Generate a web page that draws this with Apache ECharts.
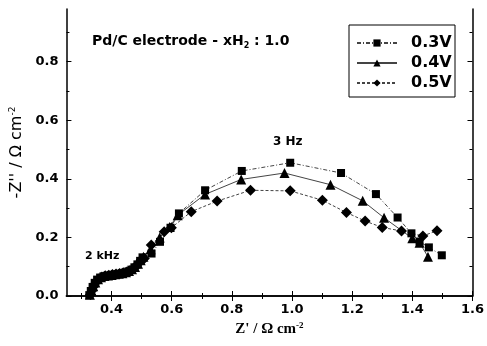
<!DOCTYPE html>
<html>
<head>
<meta charset="utf-8">
<script src="https://cdn.jsdelivr.net/npm/echarts@6/dist/echarts.min.js"></script>
<style>
  html, body { margin: 0; padding: 0; background: #fff; }
  #chart { width: 487px; height: 346px; }
</style>
</head>
<body>
<div id="chart"></div>
<script>
// Z' values (Ohm cm-2) and -Z'' values
const x03 = [0.326, 0.331, 0.337, 0.344, 0.352, 0.362, 0.373, 0.385, 0.397, 0.409, 0.421, 0.433, 0.445, 0.456, 0.466, 0.476, 0.486, 0.495, 0.503, 0.533, 0.561, 0.596, 0.624, 0.711, 0.833, 0.994, 1.163, 1.279, 1.351, 1.397, 1.424, 1.455, 1.498];
const y03 = [0.003, 0.017, 0.031, 0.045, 0.056, 0.063, 0.067, 0.069, 0.071, 0.073, 0.075, 0.077, 0.080, 0.084, 0.090, 0.098, 0.108, 0.120, 0.132, 0.145, 0.185, 0.233, 0.282, 0.361, 0.427, 0.455, 0.420, 0.348, 0.268, 0.214, 0.186, 0.166, 0.139];

const x04 = [0.328, 0.333, 0.339, 0.346, 0.355, 0.365, 0.376, 0.388, 0.400, 0.412, 0.424, 0.436, 0.448, 0.458, 0.468, 0.478, 0.488, 0.497, 0.506, 0.530, 0.560, 0.593, 0.620, 0.711, 0.831, 0.975, 1.128, 1.235, 1.306, 1.400, 1.424, 1.452];
const y04 = [0.004, 0.019, 0.033, 0.046, 0.057, 0.064, 0.068, 0.070, 0.072, 0.074, 0.076, 0.078, 0.081, 0.085, 0.091, 0.099, 0.110, 0.122, 0.134, 0.160, 0.200, 0.236, 0.276, 0.347, 0.398, 0.420, 0.380, 0.325, 0.267, 0.197, 0.182, 0.134];

const x05 = [0.330, 0.336, 0.342, 0.349, 0.358, 0.368, 0.379, 0.391, 0.403, 0.415, 0.427, 0.439, 0.451, 0.461, 0.471, 0.481, 0.490, 0.499, 0.509, 0.532, 0.575, 0.599, 0.665, 0.751, 0.862, 0.994, 1.101, 1.181, 1.243, 1.300, 1.364, 1.435, 1.482];
const y05 = [0.005, 0.020, 0.034, 0.047, 0.058, 0.065, 0.069, 0.071, 0.073, 0.075, 0.077, 0.079, 0.082, 0.086, 0.093, 0.101, 0.112, 0.124, 0.128, 0.174, 0.219, 0.233, 0.288, 0.324, 0.361, 0.359, 0.327, 0.285, 0.256, 0.234, 0.222, 0.205, 0.223];

const seriesNames = ['0.3V', '0.4V', '0.5V'];
const xMajor = [0.4, 0.6, 0.8, 1.0, 1.2, 1.4, 1.6];
const xMinor = [0.3, 0.5, 0.7, 0.9, 1.1, 1.3, 1.5];
const yMajor = [0.0, 0.2, 0.4, 0.6, 0.8];
const yMinor = [0.1, 0.3, 0.5, 0.7, 0.9];

const zip = (xs, ys) => xs.map((v, i) => [v, ys[i]]);

const chart = echarts.init(document.getElementById('chart'));

const axisLine = { show: true, lineStyle: { color: '#000', width: 1.5 } };
const labelFont = { color: '#000', fontFamily: 'DejaVu Sans', fontWeight: 'bold', fontSize: 13 };

function xAx(pos, ticks, len, withLabel, withLine) {
  const ax = {
    type: 'value', position: pos, min: 0.25, max: 1.6,
    axisLine: withLine ? axisLine : { show: false },
    axisTick: { show: true, inside: true, length: len, customValues: ticks, lineStyle: { color: '#000', width: 1 } },
    axisLabel: { show: false },
    splitLine: { show: false }
  };
  if (withLabel) {
    ax.axisLabel = Object.assign({ show: true, margin: 7, customValues: xMajor, formatter: v => v.toFixed(1) }, labelFont);
    ax.name = "{a|Z' / Ω cm}{s|-2}";
    ax.nameLocation = 'middle';
    ax.nameGap = 25;
    ax.nameTextStyle = {
      rich: {
        a: { fontFamily: 'Liberation Serif', fontWeight: 'bold', fontSize: 15, color: '#000' },
        s: { fontFamily: 'Liberation Serif', fontWeight: 'bold', fontSize: 9, color: '#000', verticalAlign: 'top', padding: [0, 0, 8, 0] }
      }
    };
  }
  return ax;
}

function yAx(pos, ticks, len, withLabel, withLine) {
  const ax = {
    type: 'value', position: pos, min: 0, max: 0.98,
    axisLine: withLine ? axisLine : { show: false },
    axisTick: { show: true, inside: true, length: len, customValues: ticks, lineStyle: { color: '#000', width: 1 } },
    axisLabel: { show: false },
    splitLine: { show: false }
  };
  if (withLabel) {
    ax.axisLabel = Object.assign({ show: true, margin: 8, customValues: yMajor, formatter: v => v.toFixed(1) }, labelFont);
    ax.name = "{a|-Z'' / Ω cm}{s|-2}";
    ax.nameLocation = 'middle';
    ax.nameRotate = 90;
    ax.nameGap = 31;
    ax.nameTextStyle = {
      rich: {
        a: { fontFamily: 'DejaVu Sans', fontSize: 16, color: '#000' },
        s: { fontFamily: 'DejaVu Sans', fontSize: 9, color: '#000', verticalAlign: 'top', padding: [0, 0, 8, 0] }
      }
    };
  }
  return ax;
}

const symbols = ['rect', 'triangle', 'diamond'];
const sizes = [8, 10, 11];
const dashes = [[4, 2, 1, 2], 'solid', [3, 2]];
const datas = [zip(x03, y03), zip(x04, y04), zip(x05, y05)];

chart.setOption({
  animation: false,
  backgroundColor: '#fff',
  grid: { left: 63, right: 13, top: 9, bottom: 50 },
  xAxis: [
    xAx('bottom', xMajor, 5, true, true),
    xAx('bottom', xMinor, 3, false, false),
    xAx('top', xMajor, 5, false, true),
    xAx('top', xMinor, 3, false, false)
  ],
  yAxis: [
    yAx('left', yMajor, 5, true, true),
    yAx('left', yMinor, 3, false, false),
    yAx('right', yMajor, 5, false, true),
    yAx('right', yMinor, 3, false, false)
  ],
  legend: {
    orient: 'vertical', left: 350, top: 29,
    padding: 6,
    itemWidth: 40, itemHeight: 9, itemGap: 4,
    textStyle: { color: '#000', fontFamily: 'DejaVu Sans', fontWeight: 'bold', fontSize: 16, lineHeight: 16, padding: [0, 0, 0, 9] },
    data: seriesNames
  },
  series: seriesNames.map((name, i) => ({
    name: name,
    type: 'line',
    data: datas[i],
    symbol: symbols[i],
    symbolSize: sizes[i],
    showSymbol: true,
    itemStyle: { color: '#000' },
    lineStyle: { color: '#444', width: 1, type: dashes[i] }
  })),
  graphic: [
    {
      type: 'rect', shape: { x: 349, y: 25, width: 106, height: 72 },
      style: { fill: 'none', stroke: '#000', lineWidth: 1 }
    },
    {
      type: 'text', left: 92, top: 34,
      style: {
        text: '{a|Pd/C electrode - xH}{s|2}{a| : 1.0}',
        rich: {
          a: { fontFamily: 'DejaVu Sans', fontWeight: 'bold', fontSize: 14, fill: '#000' },
          s: { fontFamily: 'DejaVu Sans', fontWeight: 'bold', fontSize: 8, fill: '#000', padding: [9, 0, 0, 0] }
        }
      }
    },
    { type: 'text', left: 273, top: 136, style: { text: '3 Hz', fontFamily: 'DejaVu Sans', fontWeight: 'bold', fontSize: 12, fill: '#000' } },
    { type: 'text', left: 85, top: 251, style: { text: '2 kHz', fontFamily: 'DejaVu Sans', fontWeight: 'bold', fontSize: 11, fill: '#000' } }
  ]
});
</script>
</body>
</html>
